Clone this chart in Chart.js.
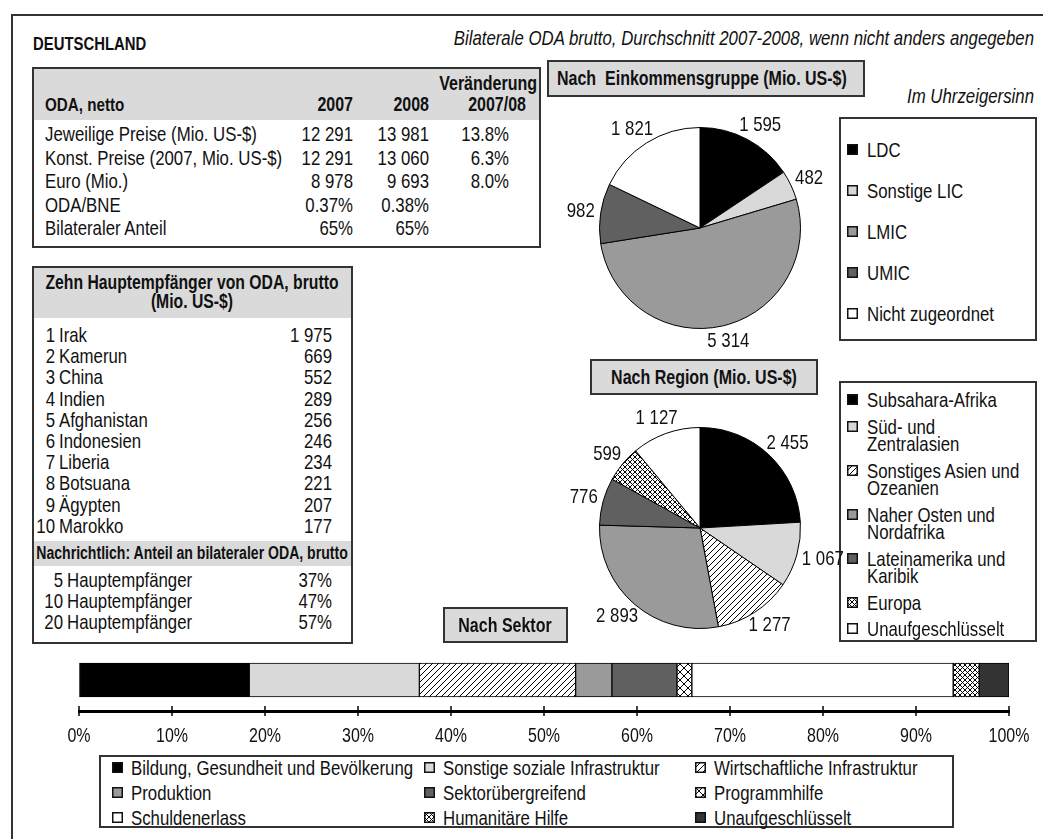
<!DOCTYPE html>
<html lang="de">
<head>
<meta charset="utf-8">
<title>Deutschland – Bilaterale ODA</title>
<script src="https://cdn.jsdelivr.net/npm/chart.js@4.4.1/dist/chart.umd.min.js"></script>
<style>
  html, body { margin: 0; padding: 0; background: #fff; }
  #page {
    position: relative; width: 1043px; height: 839px; overflow: hidden;
    font-family: 'Liberation Sans', Arial, sans-serif;
    color: #111;
  }
  .txt { position: absolute; white-space: pre; font-size: 21px; line-height: 1; z-index: 5; }
  .b { font-weight: bold; font-size: 20px; }
  .i { font-style: italic; }
  .box { position: absolute; box-sizing: border-box; border: 2px solid #333; background: #fff; }
  .grey { position: absolute; background: #dadada; }
  canvas { position: absolute; }
</style>
</head>
<body>
<div id="page">
  <canvas id="incomePie" width="280" height="242" style="left:560px; top:107px; z-index:3"></canvas>
  <canvas id="regionPie" width="300" height="242" style="left:550px; top:407px; z-index:3"></canvas>
  <canvas id="sectorBar" width="1043" height="115" style="left:0; top:640px; z-index:3"></canvas>
</div>
<script>
const FONT = "'Liberation Sans', Arial, sans-serif";
const NARROW = 0.8; // Liberation Sans squeezed to the width of a condensed face

// ---- data ----
const odaLabels = ['Jeweilige Preise (Mio. US-$)', 'Konst. Preise (2007, Mio. US-$)', 'Euro (Mio.)', 'ODA/BNE', 'Bilateraler Anteil'];
const oda2007 = ['12 291', '12 291', '8 978', '0.37%', '65%'];
const oda2008 = ['13 981', '13 060', '9 693', '0.38%', '65%'];
const odaChange = ['13.8%', '6.3%', '8.0%', '', ''];

const recipients = ['Irak', 'Kamerun', 'China', 'Indien', 'Afghanistan', 'Indonesien', 'Liberia', 'Botsuana', 'Ägypten', 'Marokko'];
const recipientValues = [1975, 669, 552, 289, 256, 246, 234, 221, 207, 177];
const shareGroups = [5, 10, 20];
const shareValues = [37, 47, 57];

const incomeGroups = ['LDC', 'Sonstige LIC', 'LMIC', 'UMIC', 'Nicht zugeordnet'];
const incomeValues = [1595, 482, 5314, 982, 1821];

const regions = ['Subsahara-Afrika', 'Süd- und\nZentralasien', 'Sonstiges Asien und\nOzeanien', 'Naher Osten und\nNordafrika', 'Lateinamerika und\nKaribik', 'Europa', 'Unaufgeschlüsselt'];
const regionValues = [2455, 1067, 1277, 2893, 776, 599, 1127];

const sectors = ['Bildung, Gesundheit und Bevölkerung', 'Sonstige soziale Infrastruktur', 'Wirtschaftliche Infrastruktur',
  'Produktion', 'Sektorübergreifend', 'Programmhilfe', 'Schuldenerlass', 'Humanitäre Hilfe', 'Unaufgeschlüsselt'];
const sectorShares = [18.3, 18.3, 16.8, 3.9, 7.0, 1.6, 28.1, 2.8, 3.2];

// ---- fills ----
const incomeFills = ['black', 'light', 'mid', 'dark', 'white'];
const regionFills = ['black', 'light', 'hatch', 'mid', 'dark', 'dense', 'white'];
const sectorFills = ['black', 'light', 'hatch', 'mid', 'dark', 'cross', 'white', 'dense', 'darker'];

const page = document.getElementById('page');
const scratch = document.createElement('canvas').getContext('2d');

function makePattern(step, cross) {
  const c = document.createElement('canvas');
  c.width = c.height = step;
  const g = c.getContext('2d');
  g.fillStyle = '#fff';
  g.fillRect(0, 0, step, step);
  g.strokeStyle = '#000';
  g.lineWidth = 1;
  g.beginPath();
  g.moveTo(-1, step + 1); g.lineTo(step + 1, -1);
  if (cross) { g.moveTo(-1, -1); g.lineTo(step + 1, step + 1); }
  g.stroke();
  return scratch.createPattern(c, 'repeat');
}

const fills = {
  black: '#000', light: '#d9d9d9', mid: '#9a9a9a', dark: '#606060', darker: '#333333', white: '#ffffff',
  hatch: makePattern(6, false), cross: makePattern(8, true), dense: makePattern(5, true)
};

function fmt(v) { return String(v).replace(/\B(?=(\d{3})+(?!\d))/g, ' '); }

// ---- html helpers ----
function put(text, x, y, cls, align, size) {
  const d = document.createElement('div');
  d.className = 'txt ' + (cls || '');
  d.textContent = text;
  d.style.left = x + 'px';
  d.style.top = y + 'px';
  if (size) d.style.fontSize = size + 'px';
  const tx = align === 'right' ? '-100%' : align === 'center' ? '-50%' : '0';
  d.style.transformOrigin = (align === 'right' ? 'right' : align === 'center' ? 'center' : 'left') + ' center';
  d.style.transform = 'translate(' + tx + ', -50%) scaleX(' + NARROW + ')';
  page.appendChild(d);
  return d;
}
function rect(cls, x, y, w, h) {
  const d = document.createElement('div');
  d.className = cls;
  Object.assign(d.style, { left: x + 'px', top: y + 'px', width: w + 'px', height: h + 'px' });
  page.appendChild(d);
  return d;
}
function marker(kind, x, y) {
  const c = document.createElement('canvas');
  c.width = c.height = 11;
  c.style.left = x + 'px';
  c.style.top = (y - 5) + 'px';
  c.style.zIndex = 4;
  const g = c.getContext('2d');
  g.fillStyle = fills[kind];
  g.fillRect(0, 0, 11, 11);
  g.strokeStyle = '#111';
  g.lineWidth = 1.5;
  g.strokeRect(0.75, 0.75, 9.5, 9.5);
  page.appendChild(c);
}

// ---- frame and headings ----
const frame = rect('box', 11, 14, 1100, 900);
frame.style.background = 'transparent';
put('DEUTSCHLAND', 33, 44, 'b', 'left', 18.6);
put('Bilaterale ODA brutto, Durchschnitt 2007-2008, wenn nicht anders angegeben', 1034, 37, 'i', 'right');

// ---- table: ODA netto ----
rect('box', 32, 67, 509, 181);
rect('grey', 34, 69, 505, 51);
put('Veränderung', 537, 83, 'b', 'right');
put('ODA, netto', 45, 104, 'b', 'left', 19);
put('2007', 353, 104, 'b', 'right');
put('2008', 429, 104, 'b', 'right');
put('2007/08', 526, 104, 'b', 'right');
odaLabels.forEach((lab, i) => {
  const y = 133 + i * 23.5;
  put(lab, 45, y);
  put(oda2007[i], 353, y, '', 'right');
  put(oda2008[i], 429, y, '', 'right');
  if (odaChange[i]) put(odaChange[i], 509, y, '', 'right');
});

// ---- table: top ten recipients ----
rect('box', 32, 266, 321, 378);
rect('grey', 34, 268, 317, 50);
put('Zehn Hauptempfänger von ODA, brutto', 192, 283, 'b', 'center', 19.7);
put('(Mio. US-$)', 192, 302, 'b', 'center', 19.7);
recipients.forEach((name, i) => {
  const y = 334 + i * 21.2;
  put(String(i + 1), 55, y, '', 'right');
  put(name, 59, y);
  put(fmt(recipientValues[i]), 332, y, '', 'right');
});
rect('grey', 34, 541, 317, 25);
put('Nachrichtlich: Anteil an bilateraler ODA, brutto', 192, 554, 'b', 'center', 17.6);
shareGroups.forEach((n, i) => {
  const y = 579 + i * 21;
  put(String(n), 63, y, '', 'right');
  put('Hauptempfänger', 67, y);
  put(shareValues[i] + '%', 332, y, '', 'right');
});

// ---- titles of the charts ----
rect('box', 547, 60, 318, 37).style.background = '#dadada';
put('Nach  Einkommensgruppe (Mio. US-$)', 557, 78, 'b');
put('Im Uhrzeigersinn', 1034, 95, 'i', 'right');
rect('box', 590, 359, 228, 36).style.background = '#dadada';
put('Nach Region (Mio. US-$)', 704, 377, 'b', 'center');
rect('box', 443, 607, 125, 36).style.background = '#dadada';
put('Nach Sektor', 505, 625, 'b', 'center');

// ---- legends ----
rect('box', 839, 117, 198, 224);
incomeGroups.forEach((g, i) => {
  const y = 149 + i * 41;
  marker(incomeFills[i], 847, y);
  put(g, 867, y);
});

rect('box', 839, 381, 198, 261);
let ry = 399;
regions.forEach((r, i) => {
  const lines = r.split('\n');
  marker(regionFills[i], 847, ry);
  lines.forEach((ln, k) => put(ln, 867, ry + k * 17.5));
  ry += (lines.length - 1) * 17.5 + 26.5;
});

rect('box', 99, 755, 855, 73);
const colMark = [112, 424, 695];
sectors.forEach((s, i) => {
  const col = i % 3, row = Math.floor(i / 3);
  const y = 767 + row * 25;
  marker(sectorFills[i], colMark[col], y);
  put(s, colMark[col] + 19, y);
});

// ---- charts ----
Chart.defaults.font.family = FONT;
Chart.defaults.color = '#111';

function narrowText(ctx, text, x, y) {
  ctx.save();
  ctx.translate(x, y);
  ctx.scale(NARROW, 1);
  ctx.fillText(text, 0, 0);
  ctx.restore();
}

const pieLabels = {
  id: 'pieLabels',
  afterDatasetsDraw(chart) {
    const ctx = chart.ctx;
    const values = chart.data.datasets[0].data;
    ctx.save();
    ctx.font = '21px ' + FONT;
    ctx.fillStyle = '#111';
    ctx.textAlign = 'center';
    ctx.textBaseline = 'middle';
    chart.getDatasetMeta(0).data.forEach((arc, i) => {
      const p = arc.getProps(['x', 'y', 'startAngle', 'endAngle', 'outerRadius'], true);
      const mid = (p.startAngle + p.endAngle) / 2;
      const text = fmt(values[i]);
      const w = ctx.measureText(text).width * NARROW;
      const r = p.outerRadius + 6;
      const cx = p.x + Math.cos(mid) * (r + w / 2);
      const cy = p.y + Math.sin(mid) * (r + 10);
      narrowText(ctx, text, cx, cy);
    });
    ctx.restore();
  }
};

function pieChart(id, labels, values, kinds, padX) {
  return new Chart(document.getElementById(id), {
    type: 'pie',
    data: {
      labels: labels,
      datasets: [{
        data: values,
        backgroundColor: kinds.map(k => fills[k]),
        borderColor: '#000',
        borderWidth: 1
      }]
    },
    options: {
      responsive: false,
      animation: false,
      layout: { padding: { left: padX, right: padX, top: 20, bottom: 20 } },
      plugins: { legend: { display: false }, tooltip: { enabled: false } }
    },
    plugins: [pieLabels]
  });
}

pieChart('incomePie', incomeGroups, incomeValues, incomeFills, 39);
pieChart('regionPie', regions, regionValues, regionFills, 49);

// tick marks across the axis line, and condensed tick labels
const percentAxis = {
  id: 'percentAxis',
  afterDraw(chart) {
    const s = chart.scales.x, ctx = chart.ctx;
    ctx.save();
    ctx.strokeStyle = '#000';
    ctx.fillStyle = '#111';
    ctx.lineWidth = 1.5;
    ctx.font = '20px ' + FONT;
    ctx.textAlign = 'center';
    ctx.textBaseline = 'middle';
    s.ticks.forEach((t, i) => {
      const x = s.getPixelForTick(i);
      ctx.beginPath();
      ctx.moveTo(x, s.top - 5);
      ctx.lineTo(x, s.top + 5);
      ctx.stroke();
      narrowText(ctx, t.label, x, s.top + 25);
    });
    ctx.restore();
  }
};

new Chart(document.getElementById('sectorBar'), {
  type: 'bar',
  data: {
    labels: ['Sektor'],
    datasets: sectors.map((s, i) => ({
      label: s,
      data: [sectorShares[i]],
      backgroundColor: fills[sectorFills[i]],
      borderColor: '#000',
      borderWidth: 1,
      borderSkipped: false,
      barThickness: 34
    }))
  },
  options: {
    indexAxis: 'y',
    responsive: false,
    animation: false,
    layout: { padding: { left: 79, right: 34, top: 9, bottom: 4 } },
    scales: {
      x: {
        stacked: true,
        min: 0,
        max: 100,
        ticks: {
          stepSize: 10,
          autoSkip: false,
          maxRotation: 0,
          color: 'rgba(0,0,0,0)',
          callback: v => v + '%'
        },
        grid: { drawOnChartArea: false, drawTicks: false },
        border: { display: true, color: '#000', width: 3 },
        afterFit: scale => { scale.height = 40; }
      },
      y: { stacked: true, display: false }
    },
    plugins: { legend: { display: false }, tooltip: { enabled: false } }
  },
  plugins: [percentAxis]
});
</script>
</body>
</html>
